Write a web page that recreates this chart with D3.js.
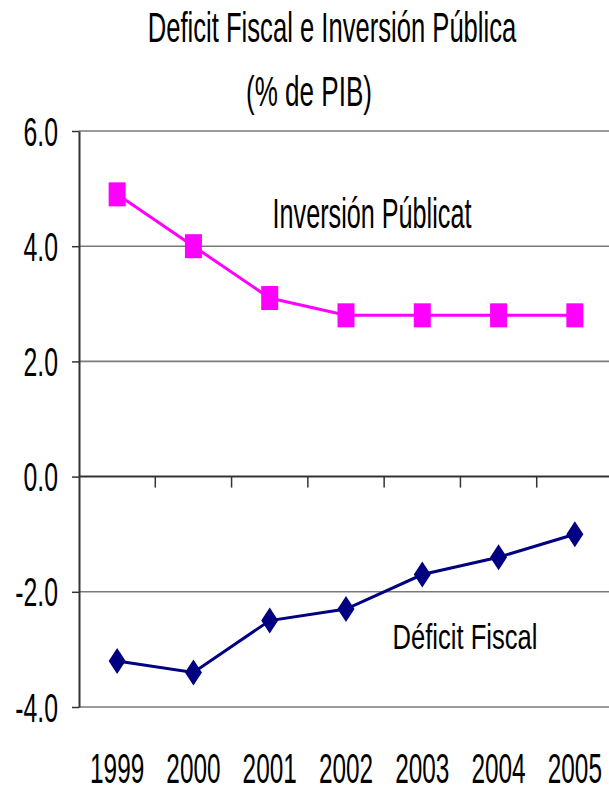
<!DOCTYPE html>
<head>
<meta charset="utf-8">
<script src="https://d3js.org/d3.v7.min.js"></script>
<style>
  body { margin: 0; background: #fff; }
  text { font-family: "Liberation Sans", Arial, sans-serif; fill: #000; }
</style>
</head>
<body>
  <svg id="chart" width="609" height="791"></svg>
  <script>
    // data
    const years = ["1999", "2000", "2001", "2002", "2003", "2004", "2005"];
    const inversion = [4.9, 4.0, 3.1, 2.8, 2.8, 2.8, 2.8];
    const deficit = [-3.2, -3.4, -2.5, -2.3, -1.7, -1.4, -1.0];
    const yTicks = [6, 4, 2, 0, -2, -4];

    const svg = d3.select("#chart");
    const plotLeft = 79, plotRight = 613, plotTop = 131, plotBottom = 707;

    const x = d3.scaleBand().domain(years).range([plotLeft, plotRight]);
    const y = d3.scaleLinear().domain([-4, 6]).range([plotBottom, plotTop]);

    // text is drawn narrow like the original (condensed font)
    function label(px, py, str, size, squeeze, anchor) {
      svg.append("g")
        .attr("transform", `translate(${px},${py}) scale(${squeeze},1)`)
        .append("text")
        .attr("font-size", size)
        .attr("text-anchor", anchor || "middle")
        .text(str);
    }

    // gridlines
    svg.append("g")
      .selectAll("line")
      .data(yTicks.filter(d => d !== 0))
      .join("line")
      .attr("x1", plotLeft).attr("x2", 609)
      .attr("y1", d => y(d)).attr("y2", d => y(d))
      .attr("stroke", "#7a7a7a")
      .attr("stroke-width", 1.6);

    // y axis
    const yAxis = svg.append("g")
      .attr("transform", `translate(${plotLeft},0)`)
      .call(d3.axisLeft(y).tickValues(yTicks).tickSize(7).tickSizeOuter(0).tickFormat(""));
    yAxis.select(".domain").attr("stroke", "#333").attr("stroke-width", 2);
    yAxis.selectAll(".tick line").attr("stroke", "#333").attr("stroke-width", 1.5);

    const fmt = t => d3.format(".1f")(t).replace("\u2212", "-");
    yTicks.forEach(t => label(58, y(t) + 14.5, fmt(t), 40, 0.62, "end"));

    // x axis on zero line, ticks at category boundaries
    svg.append("line")
      .attr("x1", plotLeft).attr("x2", 609)
      .attr("y1", y(0)).attr("y2", y(0))
      .attr("stroke", "#333").attr("stroke-width", 2);
    svg.append("g")
      .selectAll("line")
      .data(years.slice(1))
      .join("line")
      .attr("x1", d => x(d)).attr("x2", d => x(d))
      .attr("y1", y(0)).attr("y2", y(0) + 11)
      .attr("stroke", "#333").attr("stroke-width", 1.5);

    years.forEach(yr => label(x(yr) + x.bandwidth() / 2, 783, yr, 42, 0.58));

    const cx = d => x(d) + x.bandwidth() / 2;
    const line = d3.line().x((d, i) => cx(years[i])).y(d => y(d));

    // Inversión pública
    svg.append("path")
      .datum(inversion)
      .attr("d", line)
      .attr("fill", "none")
      .attr("stroke", "#ff00ff")
      .attr("stroke-width", 3);
    svg.append("g")
      .selectAll("rect")
      .data(inversion)
      .join("rect")
      .attr("x", (d, i) => cx(years[i]) - 8.5)
      .attr("y", d => y(d) - 12)
      .attr("width", 17)
      .attr("height", 24)
      .attr("fill", "#ff00ff");

    // Déficit fiscal
    svg.append("path")
      .datum(deficit)
      .attr("d", line)
      .attr("fill", "none")
      .attr("stroke", "#000080")
      .attr("stroke-width", 3);
    svg.append("g")
      .selectAll("path.dia")
      .data(deficit)
      .join("path")
      .attr("class", "dia")
      .attr("d", (d, i) => {
        const px = cx(years[i]), py = y(d);
        return `M${px},${py - 13}L${px + 8.5},${py}L${px},${py + 13}L${px - 8.5},${py}Z`;
      })
      .attr("fill", "#000080");

    // titles and series labels
    label(332, 42, "Deficit Fiscal e Inversión Pública", 42, 0.61);
    label(309, 106, "(% de PIB)", 42, 0.62);
    label(372, 228, "Inversión Públicat", 42, 0.60);
    label(465, 649, "Déficit Fiscal", 36, 0.71);
  </script>
</body>
